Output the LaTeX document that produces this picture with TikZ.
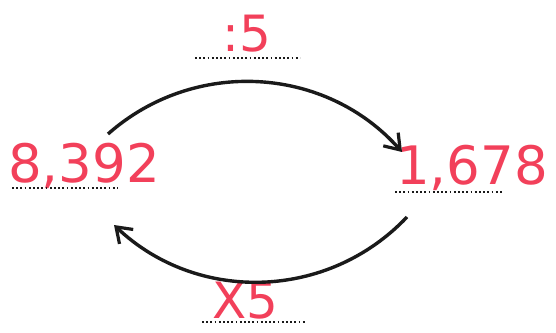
\documentclass[tikz,border=0pt]{standalone}
\usepackage{fontspec}
\setmainfont{DejaVu Sans}
\usetikzlibrary{arrows.meta}
\definecolor{pen}{HTML}{F2405A}
\definecolor{ink}{HTML}{1A1A1A}
\tikzset{
  number/.style={anchor=base west, text=pen, inner sep=0pt, font=\fontsize{53}{55}\selectfont},
  factor/.style={number, font=\fontsize{50}{52}\selectfont},
  blank/.style={ink, line width=2pt, dash pattern=on 1.8pt off 2.4pt},
  turn/.style={-{Straight Barb[length=5mm, width=7mm, line width=3.2pt]}, ink, line width=3.4pt},
}

\begin{document}
\begin{tikzpicture}[x=1pt, y=1pt]
    \useasboundingbox (0,0) rectangle (556,332);

    \node[number] (start) at (8,149) {8,392};
    \node[number] (result) at (396,147) {1,678};
    \node[factor] (divide) at (222,280) {:5};
    \node[factor] (times) at (212,14) {X5};

    % dotted answer lines
    \draw[blank] ([xshift=4pt,yshift=-5pt]start.base west) -- ++(106,0);
    \draw[blank] ([xshift=-1pt,yshift=-7pt]result.base west) -- ++(108,0);
    \draw[blank] ([xshift=-27pt,yshift=-6pt]divide.base west) -- ++(105,0);
    \draw[blank] ([xshift=-10pt,yshift=-4pt]times.base west) -- ++(104,0);

    \coordinate (out1) at (108,198);
    \coordinate (in1) at (402,180);
    \coordinate (out2) at (407,115);
    \coordinate (in2) at (114,107);

    \draw[turn] (out1) to[bend left=45] (in1);
    \draw[turn] (out2) to[bend left=45] (in2);
\end{tikzpicture}
\end{document}
